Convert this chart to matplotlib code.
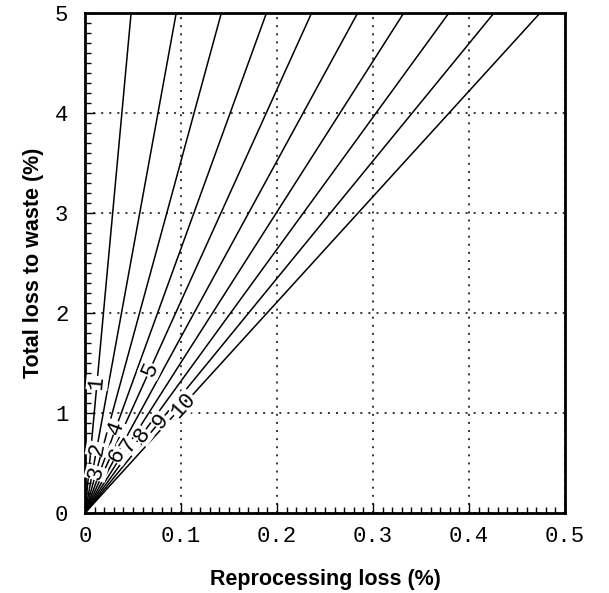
import numpy as np
import matplotlib
matplotlib.use("Agg")
import matplotlib.pyplot as plt
from matplotlib.ticker import MultipleLocator

# Recycle-count curves: each line runs from the origin to where it meets
# the 5 % ceiling of total loss.
curve_labels = [1, 2, 3, 4, 5, 6, 7, 8, 9, 10]
x_at_top = [0.048, 0.095, 0.142, 0.189, 0.236, 0.284, 0.332, 0.379, 0.426, 0.474]
y_top = 5.0

# Height along each line where its inline number sits
label_y = [1.30, 0.64, 0.40, 0.85, 1.43, 0.58, 0.68, 0.78, 0.92, 1.08]

x_ticks = [0, 0.1, 0.2, 0.3, 0.4, 0.5]
x_ticklabels = ["0", "0.1", "0.2", "0.3", "0.4", "0.5"]
y_ticks = [0, 1, 2, 3, 4, 5]
y_ticklabels = ["0", "1", "2", "3", "4", "5"]

fig = plt.figure(figsize=(6.09, 5.93), dpi=100)
ax = fig.add_axes([0.1396, 0.1349, 0.7882, 0.8432])
ax.set_xlim(0, 0.5)
ax.set_ylim(0, 5)

mono = "Liberation Mono"

for lab, xt, ly in zip(curve_labels, x_at_top, label_y):
    ax.plot([0, xt], [0, y_top], color="black", lw=1.1, solid_capstyle="butt", zorder=3)
    slope = y_top / xt
    lx = ly / slope
    ang = np.degrees(np.arctan2(y_top, xt))
    ax.text(lx, ly, str(lab), rotation=ang, transform_rotates_text=True,
            rotation_mode="anchor", ha="center", va="center",
            fontsize=16, family=mono, zorder=4,
            bbox=dict(facecolor="white", edgecolor="none", pad=0.3))

ax.set_xticks(x_ticks)
ax.set_xticklabels(x_ticklabels)
ax.set_yticks(y_ticks)
ax.set_yticklabels(y_ticklabels)
ax.xaxis.set_minor_locator(MultipleLocator(0.01))
ax.yaxis.set_minor_locator(MultipleLocator(0.1))
ax.tick_params(which="both", direction="in", top=False, right=False,
               color="black", width=1.0)
ax.tick_params(which="major", length=7, labelsize=16)
ax.tick_params(axis="x", which="major", pad=9)
ax.tick_params(axis="y", which="major", pad=12)
ax.tick_params(which="minor", length=4)
for t in ax.get_xticklabels() + ax.get_yticklabels():
    t.set_family(mono)

ax.grid(True, which="major", color="black", linestyle=(0, (1.3, 4.0)), lw=1.1, zorder=1)

for s in ax.spines.values():
    s.set_linewidth(2.0)

ax.set_xlabel("Reprocessing loss (%)", fontsize=15.5, fontweight="bold",
              family="Liberation Sans", labelpad=16)
ax.set_ylabel("Total loss to waste (%)", fontsize=15.5, fontweight="bold",
              family="Liberation Sans", labelpad=8)

fig.savefig("out.png", dpi=100)
